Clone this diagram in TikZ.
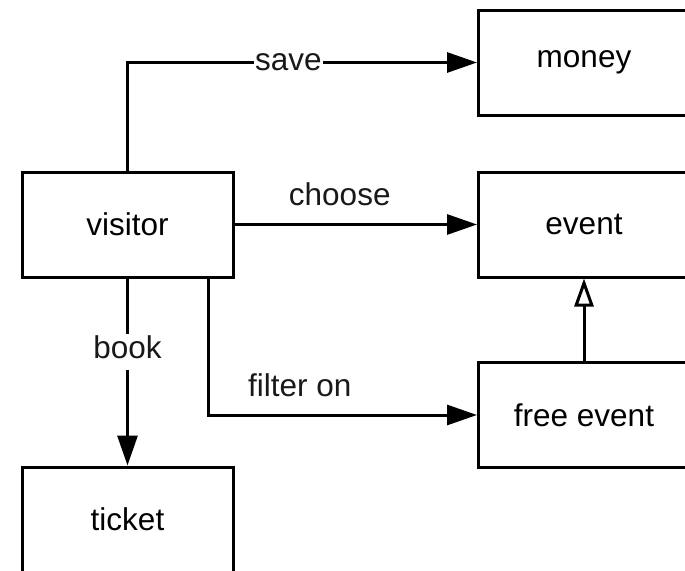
\documentclass[tikz,border=0pt]{standalone}
\usepackage{fontspec}
\setmainfont{Liberation Sans}
\usetikzlibrary{arrows.meta,calc}
\tikzset{
>={Triangle[length=30pt,width=20pt]},
box node/.style={draw,line width=3pt,rectangle,minimum width=211pt,minimum height=105pt,inner sep=0pt},
freccia/.style={->,line width=3pt},
eredita/.style={-{Triangle[open,length=28pt,width=19pt,line width=3pt]},line width=3pt},
etichetta/.style={inner sep=1.5pt,text=black!90}}

\begin{document}
\begin{tikzpicture}[x=1pt,y=-1pt,font=\fontsize{31.5}{38}\selectfont]

\useasboundingbox (0,0) rectangle (685,570);
\clip (0,0) rectangle (685,570);

\node[box node] (visitor) at (127.5,224.5) {visitor};
\node[box node] (money) at (584,62.5) {money};
\node[box node] (event) at (584,224.5) {event};
\node[box node] (free) at (584,415) {free event};
\node[box node] (ticket) at (127.5,519.5) {ticket};

\coordinate (filtro) at ($(visitor.south east)+(-26,0)$);

\draw[freccia] (visitor.north) |- node[etichetta,pos=0.73,fill=white] {save} (money.west);
\draw[freccia] (visitor.east) -- node[etichetta,pos=0.434,above=16pt] {choose} (event.west);
\draw[freccia] (visitor.south) -- node[etichetta,pos=0.395,fill=white,text depth=10pt] {book} (ticket.north);
\draw[freccia] (filtro) |- node[etichetta,pos=0.67,above=15pt] {filter on} (free.west);
\draw[eredita] (free.north) -- (event.south);
\end{tikzpicture}
\end{document}
